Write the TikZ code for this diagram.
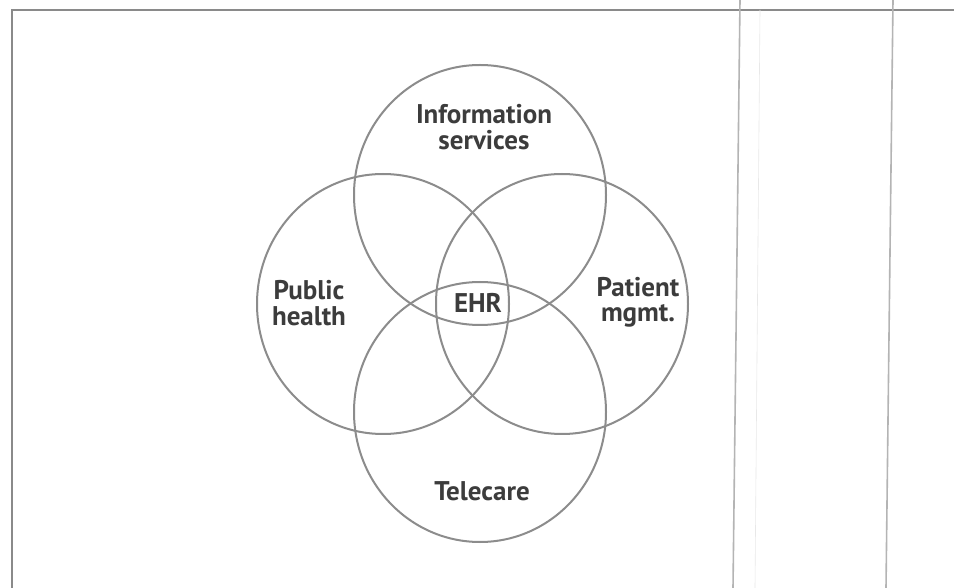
\documentclass[tikz,border=0pt]{standalone}
\usepackage{fontspec}
\setmainfont{PT Sans}
\usetikzlibrary{shapes.geometric}
\definecolor{ringgray}{HTML}{8C8C8C}
\definecolor{framegray}{HTML}{8A8A8A}
\definecolor{pagegray}{HTML}{B4B4B4}
\definecolor{textgray}{HTML}{3C3C3C}
\begin{document}
\begin{tikzpicture}[x=0.5pt,y=-0.5pt,
  ring/.style={ellipse,draw=ringgray,line width=1pt,minimum width=126pt,minimum height=130pt,inner sep=0pt},
  lbl/.style={text=textgray,font=\fontsize{13.5pt}{13pt}\selectfont\bfseries,align=center,inner sep=0pt,anchor=base},
  frameline/.style={draw=framegray,line width=1pt},
  pageline/.style={draw=pagegray,line width=0.8pt}]
\useasboundingbox[fill=white] (0,0) rectangle (954,588);
% frame and page edges
\draw[frameline] (12,588) -- (12,10) -- (954,10);
\draw[pageline] (740,0) -- (733,588);
\draw[pageline] (893,0) -- (886,588);
\draw[draw=pagegray!30,line width=0.3pt] (760,10) -- (755,588);
% circles
\node[ring] (info) at (480,195) {};
\node[ring] (pub) at (383,304) {};
\node[ring] (pat) at (562,304) {};
\node[ring] (tele) at (480,412) {};
% labels (base anchor = baseline of last line)
\node[lbl] (infolbl) at (484,150) {Information\\services};
\node[lbl] (publbl) at (309,326) {Public\\health};
\node[lbl] (ehr) at (478,313) {EHR};
\node[lbl] (patlbl) at (638,322) {Patient\\mgmt.};
\node[lbl] (telelbl) at (482,501) {Telecare};
\end{tikzpicture}
\end{document}
